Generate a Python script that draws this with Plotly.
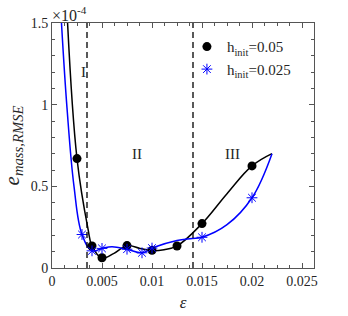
import plotly.graph_objects as go

# Marker data (values in units of 1e-4)
x_h005 = [0.0025, 0.004, 0.005, 0.0075, 0.01, 0.0125, 0.015, 0.02]
y_h005 = [0.67, 0.135, 0.063, 0.137, 0.108, 0.135, 0.272, 0.625]
x_h0025 = [0.003, 0.004, 0.005, 0.0075, 0.009, 0.01, 0.015, 0.02]
y_h0025 = [0.205, 0.105, 0.12, 0.115, 0.093, 0.122, 0.188, 0.43]

# Fitted curves
xc_h005 = [0.0015, 0.0025, 0.0036, 0.004, 0.005, 0.0062, 0.0075, 0.0088, 0.01, 0.0112, 0.0125, 0.015, 0.0175, 0.02, 0.022]
yc_h005 = [1.57, 0.67, 0.24, 0.135, 0.06, 0.09, 0.137, 0.12, 0.106, 0.112, 0.135, 0.272, 0.455, 0.625, 0.70]
xc_h0025 = [0.0009, 0.0015, 0.0022, 0.003, 0.004, 0.005, 0.006, 0.0075, 0.009, 0.01, 0.0125, 0.014, 0.015, 0.0175, 0.02, 0.022]
yc_h0025 = [1.55, 0.98, 0.5, 0.205, 0.105, 0.12, 0.13, 0.115, 0.093, 0.122, 0.168, 0.18, 0.188, 0.265, 0.43, 0.70]

region_x = [0.0035, 0.0141]
region_labels = ["I", "II", "III"]
region_label_x = [0.0031, 0.0085, 0.018]
region_label_y = [1.2, 0.70, 0.70]

xtick_vals = [0, 0.005, 0.01, 0.015, 0.02, 0.025]
xtick_text = ["0", "0.005", "0.01", "0.015", "0.02", "0.025"]
ytick_vals = [0, 0.5, 1, 1.5]
ytick_text = ["0", "0.5", "1", "1.5"]

FONT = "Liberation Serif, Times New Roman, serif"
TXT = "#262626"

fig = go.Figure()
fig.add_trace(go.Scatter(x=xc_h005, y=yc_h005, mode="lines",
                         line=dict(color="black", width=1.5, shape="spline", smoothing=1.1),
                         showlegend=False, hoverinfo="skip"))
fig.add_trace(go.Scatter(x=xc_h0025, y=yc_h0025, mode="lines",
                         line=dict(color="#0000ff", width=1.5, shape="spline", smoothing=1.1),
                         showlegend=False, hoverinfo="skip"))
fig.add_trace(go.Scatter(x=x_h005, y=y_h005, mode="markers", name="h<sub>init</sub>=0.05",
                         marker=dict(symbol="circle", size=9, color="black")))
fig.add_trace(go.Scatter(x=x_h0025, y=y_h0025, mode="markers", name="h<sub>init</sub>=0.025",
                         marker=dict(symbol="asterisk-open", size=9, color="#0000ff",
                                     line=dict(color="#0000ff", width=1))))

for xv in region_x:
    fig.add_shape(type="line", xref="x", yref="paper", x0=xv, x1=xv, y0=0, y1=1,
                  line=dict(color="black", width=1.3, dash="6px,4px"))

for t, xv, yv in zip(region_labels, region_label_x, region_label_y):
    fig.add_annotation(x=xv, y=yv, xref="x", yref="y", text=t, showarrow=False,
                       font=dict(family=FONT, size=15, color=TXT))

fig.add_annotation(x=0, y=1, xref="paper", yref="paper", xanchor="left", yanchor="bottom",
                   text="×10<sup>-4</sup>", showarrow=False, xshift=-2, yshift=-3,
                   font=dict(family=FONT, size=16, color=TXT))

axis_common = dict(showline=True, linecolor="#555555", linewidth=1, mirror="ticks",
                   ticks="inside", ticklen=5, tickcolor="#555555", showgrid=False,
                   zeroline=False, automargin=False,
                   tickfont=dict(family=FONT, size=14, color=TXT))

fig.update_xaxes(range=[0, 0.0262], tickvals=xtick_vals, ticktext=xtick_text,
                 minor=dict(dtick=0.00125, ticks="inside", ticklen=3, tickcolor="#555555"),
                 title=dict(text="<i>ε</i>", font=dict(family=FONT, size=17, color=TXT), standoff=8),
                 **axis_common)
fig.update_yaxes(range=[0, 1.5], tickvals=ytick_vals, ticktext=ytick_text,
                 minor=dict(dtick=0.1, ticks="inside", ticklen=3, tickcolor="#555555"),
                 title=dict(text="<i>e</i><sub><i>mass,RMSE</i></sub>",
                            font=dict(family=FONT, size=21, color=TXT), standoff=6),
                 **axis_common)

fig.update_layout(width=348, height=316, margin=dict(l=52, r=34, t=23, b=48),
                  plot_bgcolor="white", paper_bgcolor="white",
                  legend=dict(x=0.515, y=0.97, xanchor="left", yanchor="top",
                              bgcolor="rgba(0,0,0,0)", font=dict(family=FONT, size=15, color=TXT),
                              tracegroupgap=2))

fig.write_html("out.html", config={"displayModeBar": False},
               post_script="document.body.style.margin='0';document.body.style.overflow='hidden';")
